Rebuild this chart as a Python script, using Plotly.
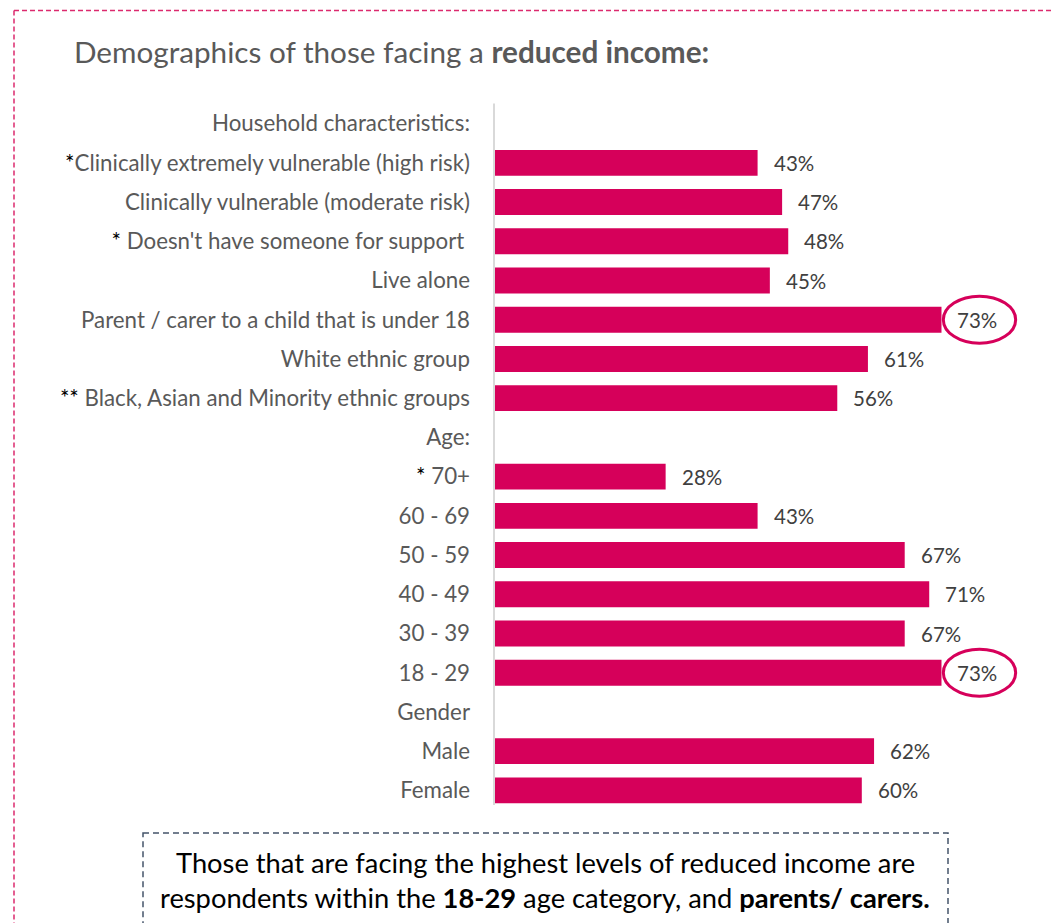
import plotly.graph_objects as go

# Row labels (top to bottom), the marker prefix shown before some of them, and values (%)
labels = [
    "Household characteristics:",
    "Clinically extremely vulnerable (high risk)",
    "Clinically vulnerable (moderate risk)",
    "Doesn't have someone for support ",
    "Live alone",
    "Parent / carer to a child that is under 18",
    "White ethnic group",
    "Black, Asian and Minority ethnic groups",
    "Age:",
    "70+",
    "60 - 69",
    "50 - 59",
    "40 - 49",
    "30 - 39",
    "18 - 29",
    "Gender",
    "Male",
    "Female",
]
markers = ["", "*", "", "* ", "", "", "", "** ", "", "* ", "", "", "", "", "", "", "", ""]
values = [None, 43, 47, 48, 45, 73, 61, 56, None, 28, 43, 67, 71, 67, 73, None, 62, 60]
highlighted = ["Parent / carer to a child that is under 18", "18 - 29"]

BAR = "#D6005A"
GREY = "#595959"
FONT = "Lato"

rows = list(range(len(labels)))
ticktext = [
    (f"<span style='color:#000000'>{m}</span>" if m else "") + lab
    for m, lab in zip(markers, labels)
]

fig = go.Figure(
    go.Bar(
        y=rows,
        x=values,
        orientation="h",
        width=0.66,
        marker=dict(color=BAR, line=dict(width=0)),
        hoverinfo="skip",
    )
)

W, H = 1051, 923
ML, MR, MT, MB = 494, 6, 104.4, 113
PW, PH = W - ML - MR, H - MT - MB


def px(xpix):
    return (xpix - ML) / PW


def py(ypix):
    return (H - MB - ypix) / PH


shapes = []
# outer dashed frame (top and left edges)
frame = dict(type="line", xref="paper", yref="paper",
             line=dict(color="#DC2A6E", width=1.5, dash="5px,3px"), layer="above")
shapes.append(dict(frame, x0=px(14), x1=px(1060), y0=py(11), y1=py(11)))
shapes.append(dict(frame, x0=px(14), x1=px(14), y0=py(11), y1=py(940)))
# vertical axis line
shapes.append(dict(type="line", xref="paper", yref="paper", x0=0, x1=0,
                   y0=py(104), y1=py(805), line=dict(color="#D9D9D9", width=2)))
# summary box
shapes.append(dict(type="rect", xref="paper", yref="paper",
                   x0=px(143), x1=px(948), y0=py(833), y1=py(960),
                   line=dict(color="#44546A", width=1.5, dash="6px,4px")))
# ellipses around the highest values
for lab in highlighted:
    i = labels.index(lab)
    v = values[i]
    shapes.append(dict(type="circle", xref="x", yref="y",
                       x0=v + 0.3, x1=v + 12.1, y0=i - 0.6, y1=i + 0.6,
                       line=dict(color=BAR, width=3)))

annotations = [
    dict(xref="paper", yref="paper", x=px(72), y=py(52), xanchor="left", yanchor="middle",
         text="Demographics of those facing a <b>reduced income:</b>", showarrow=False,
         font=dict(family=FONT, size=29.7, color=GREY)),
    dict(xref="paper", yref="paper", x=px(545), y=py(862), xanchor="center", yanchor="middle",
         text="Those that are facing the highest levels of reduced income are", showarrow=False,
         font=dict(family=FONT, size=27.3, color="#000000")),
    dict(xref="paper", yref="paper", x=px(545), y=py(897), xanchor="center", yanchor="middle",
         text="respondents within the <b>18-29</b> age category, and <b>parents/ carers.</b>",
         showarrow=False, font=dict(family=FONT, size=27.3, color="#000000")),
]
# value labels just past the end of each bar
for i, v in enumerate(values):
    if v is None:
        continue
    annotations.append(dict(x=v, y=i, xref="x", yref="y", xanchor="left", yanchor="middle",
                            xshift=14, text=f"{v}%", showarrow=False,
                            font=dict(family=FONT, size=20.5, color="#404040")))

fig.update_layout(
    width=W, height=H,
    margin=dict(l=ML, r=MR, t=MT, b=MB, pad=0),
    paper_bgcolor="white", plot_bgcolor="white",
    showlegend=False,
    shapes=shapes,
    annotations=annotations,
    xaxis=dict(range=[0, PW / 6.13], visible=False, fixedrange=True),
    yaxis=dict(range=[len(labels) - 0.5, -0.5], tickmode="array", tickvals=rows,
               ticktext=ticktext, showgrid=False, zeroline=False, showline=False,
               ticks="", ticklabelstandoff=23,
               tickfont=dict(family=FONT, size=22.3, color=GREY), fixedrange=True),
)

fig.write_html("out.html", config={"displayModeBar": False})
